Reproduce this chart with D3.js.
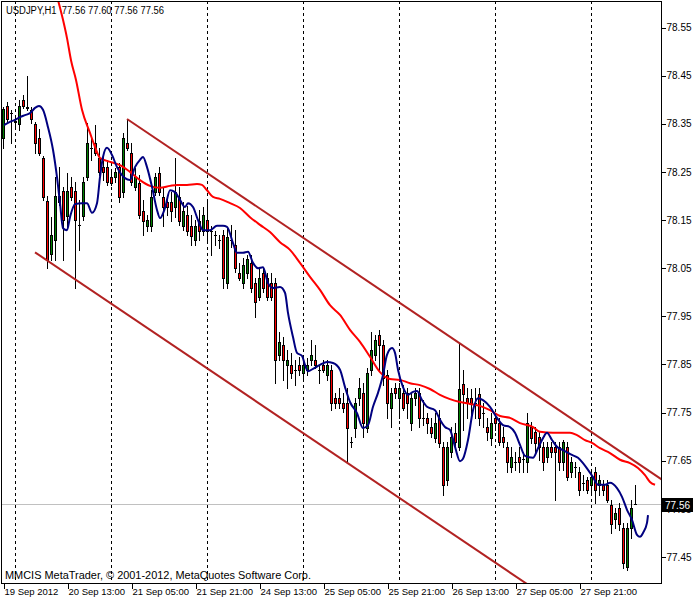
<!DOCTYPE html>
<html><head><meta charset="utf-8">
<script src="https://cdn.jsdelivr.net/npm/d3@7/dist/d3.min.js"></script>
<style>
body{margin:0;background:#fff}
svg{display:block}
text{font-family:"Liberation Sans",Arial,sans-serif;white-space:pre}
</style>
</head><body>
<svg id="c" width="700" height="600"></svg>
<script>
// ---------- DATA ----------
const titleText = "USDJPY,H1  77.56 77.60 77.56 77.56";
const watermarkText = "MMCIS MetaTrader, \u00A9 2001-2012, MetaQuotes Software Corp.";
const lastPrice = 77.56;

const opens = [
78.320,78.387,78.372,78.354,78.350,78.399,78.383,78.379,78.350,78.320,
78.279,78.190,78.079,78.109,78.187,78.210,78.158,78.219,78.210,78.140,
78.158,78.239,78.300,78.310,78.279,78.260,78.260,78.239,78.239,78.260,
78.208,78.310,78.289,78.219,78.227,78.169,78.138,78.138,78.208,78.248,
78.198,78.187,78.187,78.177,78.198,78.138,78.160,78.138,78.109,78.148,
78.127,78.150,78.127,78.119,78.109,78.119,78.019,78.109,78.098,78.040,
78.019,78.040,78.061,78.019,77.990,78.040,78.030,78.019,78.019,77.870,
77.890,77.849,77.849,77.839,77.849,77.832,77.839,77.859,77.859,77.839,
77.849,77.828,77.839,77.780,77.780,77.770,77.770,77.689,77.718,77.780,
77.791,77.718,77.839,77.870,77.911,77.890,77.828,77.760,77.801,77.780,
77.791,77.791,77.728,77.780,77.791,77.739,77.739,77.720,77.697,77.739,
77.679,77.610,77.668,77.708,77.679,77.809,77.780,77.780,77.770,77.789,
77.749,77.720,77.697,77.739,77.728,77.699,77.679,77.637,77.647,77.658,
77.654,77.647,77.720,77.710,77.699,77.679,77.658,77.679,77.679,77.679,
77.647,77.679,77.627,77.637,77.627,77.604,77.610,77.600,77.627,77.600,
77.600,77.600,77.558,77.529,77.552,77.510,77.429,77.510,77.560];
const highs = [
78.385,78.395,78.379,78.364,78.399,78.410,78.449,78.385,78.354,78.339,
78.283,78.200,78.156,78.239,78.260,78.219,78.248,78.239,78.229,78.192,
78.239,78.352,78.320,78.347,78.300,78.281,78.275,78.254,78.258,78.269,
78.331,78.358,78.310,78.258,78.244,78.192,78.160,78.212,78.248,78.260,
78.219,78.198,78.208,78.279,78.219,78.187,78.179,78.160,78.150,78.171,
78.177,78.192,78.138,78.127,78.119,78.129,78.136,78.140,78.129,78.061,
78.071,78.077,78.077,78.030,78.050,78.050,78.040,78.040,78.030,77.917,
77.907,77.880,77.874,77.859,77.866,77.859,77.863,77.901,77.890,77.849,
77.859,77.859,77.849,77.791,77.801,77.791,77.801,77.699,77.780,77.822,
77.811,77.843,77.917,77.911,77.922,77.901,77.839,77.801,77.811,77.811,
77.807,77.801,77.791,77.801,77.801,77.776,77.749,77.739,77.749,77.755,
77.689,77.689,77.720,77.728,77.895,77.839,77.801,77.799,77.801,77.801,
77.770,77.739,77.749,77.749,77.739,77.720,77.689,77.679,77.668,77.679,
77.668,77.749,77.730,77.720,77.710,77.689,77.689,77.689,77.689,77.689,
77.693,77.689,77.658,77.647,77.637,77.620,77.616,77.627,77.637,77.620,
77.610,77.610,77.568,77.552,77.562,77.521,77.521,77.568,77.600];
const lows = [
78.300,78.352,78.310,78.341,78.337,78.383,78.379,78.352,78.289,78.285,
78.192,78.050,78.067,78.067,78.181,78.067,78.136,78.192,78.009,78.088,
78.150,78.233,78.275,78.285,78.244,78.233,78.223,78.223,78.229,78.187,
78.198,78.296,78.223,78.212,78.154,78.119,78.127,78.127,78.202,78.202,
78.138,78.160,78.148,78.156,78.140,78.129,78.119,78.098,78.098,78.109,
78.119,78.109,78.077,78.098,78.092,78.009,78.009,78.094,78.042,78.025,
78.009,78.030,78.001,77.949,77.984,78.001,77.984,77.984,77.811,77.859,
77.818,77.801,77.822,77.807,77.828,77.818,77.828,77.849,77.843,77.811,
77.834,77.818,77.755,77.760,77.760,77.751,77.645,77.679,77.699,77.766,
77.699,77.710,77.828,77.859,77.839,77.807,77.739,77.720,77.780,77.739,
77.755,77.739,77.714,77.766,77.720,77.724,77.708,77.699,77.689,77.679,
77.579,77.600,77.658,77.679,77.672,77.714,77.739,77.745,77.739,77.724,
77.720,77.693,77.683,77.714,77.683,77.679,77.627,77.627,77.631,77.627,
77.627,77.627,77.687,77.668,77.652,77.631,77.647,77.658,77.568,77.631,
77.631,77.610,77.616,77.616,77.579,77.589,77.583,77.579,77.562,77.579,
77.579,77.564,77.500,77.510,77.506,77.427,77.423,77.490,77.560];
const closes = [
78.381,78.360,78.372,78.356,78.387,78.387,78.385,78.360,78.310,78.289,
78.198,78.067,78.119,78.200,78.200,78.150,78.210,78.198,78.150,78.140,
78.229,78.310,78.300,78.289,78.250,78.250,78.229,78.227,78.250,78.198,
78.320,78.300,78.229,78.239,78.160,78.148,78.150,78.198,78.239,78.208,
78.177,78.177,78.169,78.208,78.148,78.169,78.127,78.117,78.138,78.127,
78.160,78.127,78.127,78.119,78.109,78.030,78.115,78.109,78.050,78.030,
78.057,78.069,78.009,77.980,78.030,78.009,77.990,77.990,77.859,77.897,
77.859,77.859,77.832,77.839,77.839,77.849,77.849,77.870,77.849,77.839,
77.839,77.849,77.770,77.770,77.770,77.760,77.718,77.689,77.770,77.801,
77.728,77.832,77.880,77.901,77.890,77.822,77.770,77.791,77.791,77.801,
77.760,77.770,77.780,77.791,77.739,77.739,77.728,77.708,77.728,77.687,
77.600,77.679,77.699,77.689,77.799,77.789,77.770,77.770,77.770,77.739,
77.749,77.710,77.728,77.728,77.689,77.689,77.647,77.658,77.647,77.647,
77.654,77.728,77.697,77.687,77.679,77.647,77.679,77.668,77.668,77.647,
77.689,77.616,77.647,77.637,77.589,77.604,77.589,77.616,77.589,77.610,
77.589,77.568,77.519,77.541,77.519,77.438,77.510,77.552,77.560];

// fast (blue) moving average: bar position, price
const fastMaBars = [0.25,1.75,3,4.25,5.5,6.75,8,9,10,11.25,12.5,13.5,14.25,15,16,16.75,18,19.75,21,22.25,23.5,24.25,25,26,27.25,28.5,30.5,31.75,33,34.25,35,36,37.25,38.5,39.25,40.5,41.75,43,44.25,45.5,46.25,47.5,48.75,50,51.75,53.5,55,56,57.5,58.5,60,61.25,62.5,63.75,65,66.25,67.5,69.25,70.5,71.25,72.5,73.5,74.75,75.5,76.25,77.5,79.25,81,82.5,84.25,85.5,86.75,88.5,90,91.25,92.5,93.75,95,96,97.25,98,98.75,100,101.25,102.5,103.5,104.75,106,108,109.25,110.5,111.75,113,114.25,115,116.25,117.5,118.75,120,121.75,123.5,125,126.75,128,129.25,130.5,132.5,133.75,135,136,137.25,138.5,140,142.25,143.75,145,146.25,147.5,148.75,150.5,151.75,153.5,154.75,156,157.25,158.5,159.25,160,161,161.25];
const fastMaValues = [78.347,78.354,78.358,78.364,78.368,78.372,78.383,78.387,78.379,78.343,78.296,78.239,78.185,78.133,78.129,78.156,78.183,78.185,78.185,78.165,78.185,78.239,78.281,78.300,78.285,78.260,78.237,78.233,78.260,78.275,78.281,78.260,78.219,78.171,78.154,78.175,78.212,78.208,78.192,78.177,78.185,78.177,78.150,78.129,78.129,78.138,78.138,78.136,78.102,78.082,78.082,78.084,78.061,78.050,78.052,78.019,78.009,78.011,77.999,77.957,77.907,77.874,77.868,77.849,77.836,77.841,77.849,77.855,77.853,77.839,77.803,77.772,77.749,77.718,77.724,77.762,77.791,77.828,77.870,77.884,77.874,77.839,77.803,77.787,77.793,77.795,77.776,77.762,77.755,77.735,77.720,77.714,77.679,77.649,77.654,77.693,77.755,77.780,77.776,77.762,77.739,77.724,77.720,77.708,77.683,77.660,77.656,77.676,77.697,77.708,77.693,77.679,77.672,77.662,77.656,77.645,77.631,77.616,77.600,77.600,77.604,77.593,77.575,77.548,77.527,77.496,77.492,77.500,77.521,77.537];

// slow (red) moving average
const slowMaBars = [13.75,15,16,17,18.25,19.75,21.75,23,24.25,26,29.25,31.75,34.25,36.75,39.25,41.75,43.5,46,48.5,49.75,51,52.5,54.25,56.75,59.25,61.75,64.25,66.75,69.25,71.75,74.25,76.75,79.25,81.75,84.25,86.75,89.25,91.75,94.25,96.75,99.25,101.75,104.25,106.75,109.25,111.75,114.25,116.75,119.25,121.75,124.25,126.75,129.25,132.5,134.25,137.5,140,141.75,143.5,145.5,147.25,149.25,151.75,154.25,156.75,158.75,160.5,161.75,163];
const slowMaValues = [78.607,78.566,78.528,78.482,78.441,78.379,78.331,78.302,78.279,78.273,78.264,78.250,78.233,78.221,78.217,78.221,78.223,78.223,78.225,78.223,78.212,78.198,78.194,78.185,78.175,78.156,78.140,78.125,78.104,78.088,78.061,78.032,78.005,77.973,77.953,77.922,77.897,77.866,77.834,77.820,77.818,77.811,77.807,77.799,77.787,77.778,77.772,77.768,77.764,77.755,77.743,77.739,77.728,77.720,77.710,77.708,77.708,77.708,77.703,77.693,77.687,77.676,77.666,77.652,77.645,77.635,77.620,77.606,77.600];

// trend channel: upper line through two anchors, lower line parallel from its anchor
const channelUpperBars = [31, 114];
const channelUpperPrices = [78.360, 77.895];
const channelLowerBar = 8;
const channelLowerPrice = 78.083;

const priceTicks = [78.55,78.45,78.35,78.25,78.15,78.05,77.95,77.85,77.75,77.65,77.55,77.45];
const timeTickBars = [0,16,32,48,64,80,96,112,128,144];
const timeTickLabels = ["19 Sep 2012","20 Sep 13:00","21 Sep 05:00","21 Sep 21:00","24 Sep 13:00","25 Sep 05:00","25 Sep 21:00","26 Sep 13:00","27 Sep 05:00","27 Sep 21:00"];
const daySeparatorBars = [3,27,51,75,99,123,147];

// ---------- DRAW ----------
const svg = d3.select("#c");
const P = {left:1, top:1, right:661, bottom:583};
const x = d3.scaleLinear().domain([0,158]).range([3,635]);
const y = d3.scaleLinear().domain([77.45,78.55]).range([557,27.5]);
const px = v => Math.round(x(v));
const py = v => Math.round(y(v));

svg.append("rect").attr("width",700).attr("height",600).attr("fill","#fff");
svg.append("clipPath").attr("id","clip").append("rect")
  .attr("x",P.left+1).attr("y",P.top+1).attr("width",P.right-P.left-1).attr("height",P.bottom-P.top-1);

const g = svg.append("g").attr("clip-path","url(#clip)");

// day separators
g.selectAll("line.sep").data(daySeparatorBars).join("line")
  .attr("x1",d=>px(d)+0.5).attr("x2",d=>px(d)+0.5)
  .attr("y1",P.top).attr("y2",P.bottom)
  .attr("stroke","#000").attr("stroke-width",1).attr("stroke-dasharray","3,3")
  .attr("shape-rendering","crispEdges");

// current price line
g.append("line").attr("x1",P.left).attr("x2",P.right)
  .attr("y1",py(lastPrice)+0.5).attr("y2",py(lastPrice)+0.5)
  .attr("stroke","#c0c0c0").attr("stroke-width",1).attr("shape-rendering","crispEdges");

// candles
const bars = d3.range(opens.length).map(i=>({i,o:opens[i],h:highs[i],l:lows[i],c:closes[i]}));
const cg = g.append("g").attr("shape-rendering","crispEdges");
cg.selectAll("line.wick").data(bars).join("line")
  .attr("x1",d=>px(d.i)+0.5).attr("x2",d=>px(d.i)+0.5)
  .attr("y1",d=>py(d.h)).attr("y2",d=>py(d.l)+1)
  .attr("stroke","#000");
bars.forEach(d=>{
  const top = py(Math.max(d.o,d.c)), bot = py(Math.min(d.o,d.c));
  const cx = px(d.i);
  if (bot - top < 1) {
    cg.append("line").attr("x1",cx-1).attr("x2",cx+2).attr("y1",top+0.5).attr("y2",top+0.5).attr("stroke","#000");
  } else {
    cg.append("rect").attr("x",cx-0.5).attr("y",top+0.5).attr("width",2).attr("height",bot-top)
      .attr("fill", d.c>=d.o ? "#008000" : "#ff0000").attr("stroke","#000").attr("stroke-width",1);
  }
});

// moving averages
const line = d3.line().x(d=>x(d[0])).y(d=>y(d[1])).curve(d3.curveMonotoneX);
g.append("path").datum(slowMaBars.map((b,i)=>[b,slowMaValues[i]]))
  .attr("d",line).attr("fill","none").attr("stroke","#ff0000").attr("stroke-width",2);
g.append("path").datum(fastMaBars.map((b,i)=>[b,fastMaValues[i]]))
  .attr("d",line).attr("fill","none").attr("stroke","#000080").attr("stroke-width",2);

// channel
const slope = (channelUpperPrices[1]-channelUpperPrices[0])/(channelUpperBars[1]-channelUpperBars[0]);
const farBar = x.invert(P.right+20);
g.append("line")
  .attr("x1",x(channelUpperBars[0])).attr("y1",y(channelUpperPrices[0]))
  .attr("x2",x(farBar)).attr("y2",y(channelUpperPrices[0]+slope*(farBar-channelUpperBars[0])))
  .attr("stroke","#b22222").attr("stroke-width",2);
g.append("line")
  .attr("x1",x(channelLowerBar)).attr("y1",y(channelLowerPrice))
  .attr("x2",x(farBar)).attr("y2",y(channelLowerPrice+slope*(farBar-channelLowerBar)))
  .attr("stroke","#b22222").attr("stroke-width",2);

// frame
svg.append("rect").attr("x",P.left+0.5).attr("y",P.top+0.5)
  .attr("width",P.right-P.left).attr("height",P.bottom-P.top)
  .attr("fill","none").attr("stroke","#000").attr("shape-rendering","crispEdges");

// price axis
const ya = svg.append("g").attr("transform",`translate(${P.right+0.5},0)`)
  .call(d3.axisRight(y).tickValues(priceTicks).tickFormat(d3.format(".2f")).tickSize(4).tickPadding(1));
ya.select(".domain").remove();
ya.selectAll("line").attr("stroke","#000").attr("shape-rendering","crispEdges");
ya.selectAll("text").attr("font-size",10).attr("fill","#000").attr("font-family","Liberation Sans, Arial, sans-serif");

// time axis
const xa = svg.append("g").attr("transform",`translate(0,${P.bottom+0.5})`)
  .call(d3.axisBottom(x).tickValues(timeTickBars).tickFormat((d,i)=>timeTickLabels[i]).tickSize(5).tickPadding(0));
xa.select(".domain").remove();
xa.selectAll(".tick line").attr("stroke","#000").attr("transform","translate(0.5,0)").attr("shape-rendering","crispEdges");
xa.selectAll("text").attr("font-size",9.5).attr("fill","#000").attr("text-anchor","start").attr("x",1)
  .attr("font-family","Liberation Sans, Arial, sans-serif");

// last price tag
const ly = py(lastPrice);
svg.append("rect").attr("x",P.right+1).attr("y",ly-6).attr("width",31).attr("height",14).attr("fill","#000");
svg.append("text").attr("x",P.right+4).attr("y",ly+5).attr("font-size",10).attr("fill","#fff").text(d3.format(".2f")(lastPrice));

// texts
svg.append("text").attr("x",6).attr("y",14).attr("font-size",10).attr("fill","#000")
  .attr("textLength",158).attr("lengthAdjust","spacingAndGlyphs").text(titleText);
svg.append("text").attr("x",5).attr("y",579).attr("font-size",10.5).attr("fill","#000")
  .attr("textLength",306).attr("lengthAdjust","spacingAndGlyphs").text(watermarkText);
</script>
</body></html>
